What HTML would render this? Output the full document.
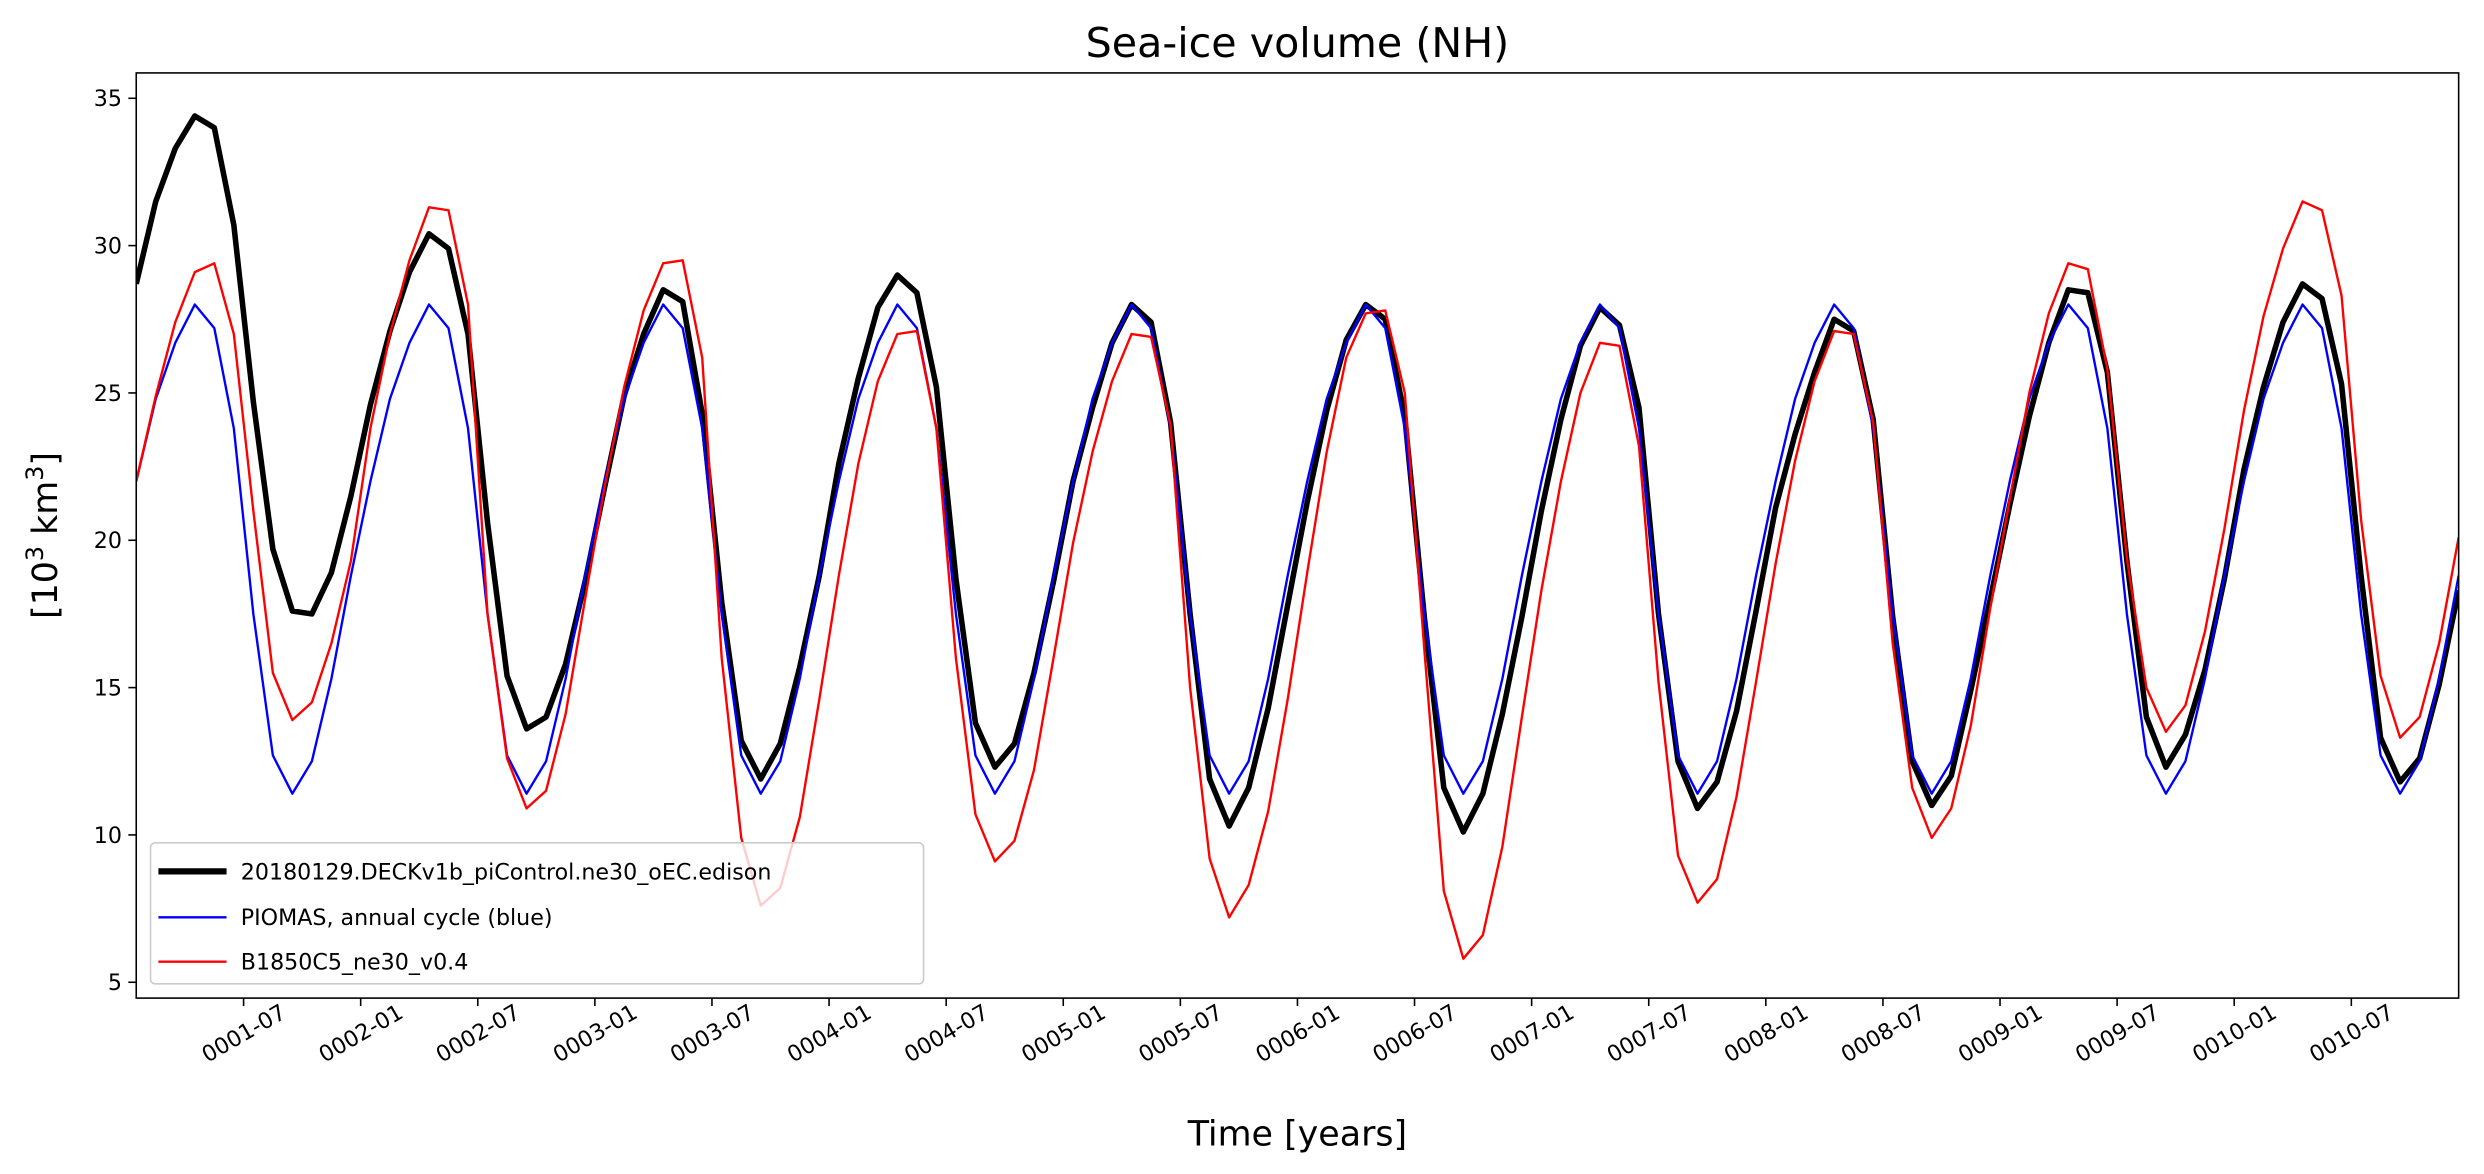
<!DOCTYPE html>
<html><head><meta charset="utf-8"><style>
html,body{margin:0;padding:0;background:#fff;}
svg{display:block;font-family:"DejaVu Sans","Liberation Sans",sans-serif;}
</style></head><body>
<svg id="chart" width="2484" height="1174" viewBox="0 0 1568 741" xmlns="http://www.w3.org/2000/svg">
<rect width="1568" height="741" fill="#fff"/>
<text x="819" y="36" font-size="26" text-anchor="middle">Sea-ice volume (NH)</text>
<text x="819" y="723" font-size="22" text-anchor="middle">Time [years]</text>
<text transform="translate(36,338) rotate(-90)" font-size="22" text-anchor="middle">[10<tspan font-size="15" dy="-9">3</tspan><tspan dy="9"> km</tspan><tspan font-size="15" dy="-9">3</tspan><tspan dy="9">]</tspan></text>
<g id="plot"></g>
<rect x="86" y="46" width="1466" height="584" fill="none" stroke="#000" stroke-width="1"/>
<g>
<rect x="95" y="532" width="488" height="89" rx="3" fill="#fff" fill-opacity="0.8" stroke="#ccc"/>
<line x1="100" y1="550" x2="143" y2="550" stroke="#000" stroke-width="4"/>
<text x="152" y="555" font-size="14">20180129.DECKv1b_piControl.ne30_oEC.edison</text>
<line x1="100" y1="579" x2="143" y2="579" stroke="#0000ff" stroke-width="1.5"/>
<text x="152" y="584" font-size="14">PIOMAS, annual cycle (blue)</text>
<line x1="100" y1="607" x2="143" y2="607" stroke="#ff0000" stroke-width="1.5"/>
<text x="152" y="612" font-size="14">B1850C5_ne30_v0.4</text>
</g>
</svg>
<script>
const piomasCycle=[22.0,24.8,26.7,28.0,27.2,23.8,17.5,12.7,11.4,12.5,15.3,18.8];
const modelValues=[28.7,31.5,33.3,34.4,34.0,30.7,24.7,19.7,17.6,17.5,18.9,21.5,
24.6,27.1,29.1,30.4,29.9,27.0,20.6,15.4,13.6,14.0,15.8,18.6,
21.8,24.9,27.0,28.5,28.1,24.3,17.9,13.2,11.9,13.1,15.7,18.8,
22.6,25.5,27.9,29.0,28.4,25.2,18.7,13.8,12.3,13.1,15.5,18.6,
22.0,24.5,26.7,28.0,27.4,24.0,17.5,11.9,10.3,11.6,14.3,17.8,
21.3,24.4,26.8,28.0,27.5,24.2,17.4,11.6,10.1,11.4,14.1,17.4,
21.0,24.1,26.6,27.9,27.3,24.5,17.5,12.5,10.9,11.8,14.2,17.6,
21.1,23.6,25.7,27.5,27.1,24.1,17.4,12.5,11.0,12.0,14.9,18.0,
21.2,24.2,26.7,28.5,28.4,25.7,19.3,14.0,12.3,13.4,15.6,18.7,
22.4,25.2,27.4,28.7,28.2,25.3,18.8,13.3,11.8,12.6,15.1,18.3];
const b1850Values=[22.0,24.9,27.4,29.1,29.4,27.0,21.0,15.5,13.9,14.5,16.5,19.3,
23.8,27.0,29.5,31.3,31.2,28.0,17.5,12.6,10.9,11.5,14.1,18.0,
21.8,25.2,27.8,29.4,29.5,26.2,16.0,9.9,7.6,8.2,10.6,14.6,
18.8,22.6,25.4,27.0,27.1,23.8,16.0,10.7,9.1,9.8,12.2,16.0,
19.9,23.0,25.4,27.0,26.9,23.9,15.0,9.2,7.2,8.3,10.8,14.6,
18.9,23.0,26.2,27.7,27.8,25.0,16.3,8.1,5.8,6.6,9.6,14.0,
18.3,22.0,25.0,26.7,26.6,23.2,15.2,9.3,7.7,8.5,11.3,15.2,
19.2,22.7,25.4,27.1,27.0,24.0,16.5,11.6,9.9,10.9,13.7,17.7,
21.4,25.0,27.7,29.4,29.2,25.8,19.4,15.0,13.5,14.4,16.9,20.4,
24.4,27.6,29.9,31.5,31.2,28.3,20.7,15.4,13.3,14.0,16.5,20.1];
const yTicks=[5,10,15,20,25,30,35];
const xTickLabels=["0001-07","0002-01","0002-07","0003-01","0003-07","0004-01","0004-07","0005-01","0005-07","0006-01","0006-07","0007-01","0007-07","0008-01","0008-07","0009-01","0009-07","0010-01","0010-07"];

const NS="http://www.w3.org/2000/svg";
const plot=document.getElementById('plot');
const X0=86,X1=1552,Y0=46,Y1=630;
const nPts=120;
function xScale(m){return X0+(m-0.5)*(X1-X0)/(nPts-1);}
function yScale(v){return 620-(v-5)*(558/30);}
function mk(tag,attrs){const e=document.createElementNS(NS,tag);for(const k in attrs)e.setAttribute(k,attrs[k]);return e;}

yTicks.forEach(v=>{
  const y=yScale(v);
  const t=mk('line',{x1:X0-5,x2:X0,y1:y,y2:y,stroke:'#000','stroke-width':1});
  
  
  plot.appendChild(t);
  const l=mk('text',{x:X0-9,y:y+5,'font-size':14,'text-anchor':'end'});
  
  
  l.textContent=v;plot.appendChild(l);
});
xTickLabels.forEach(lbl=>{
  const yr=parseInt(lbl.slice(0,4)),mo=parseInt(lbl.slice(5,7));
  const m=(yr-1)*12+(mo-1);
  const x=xScale(m);
  const t=mk('line',{x1:x,x2:x,y1:Y1,y2:Y1+5,stroke:'#000','stroke-width':1});
  
  
  plot.appendChild(t);
  const cy=Y1+22;
  const l=mk('text',{x:x,y:cy+5,'font-size':14,'text-anchor':'middle',transform:`rotate(-30 ${x} ${cy})`});
  
  
  l.textContent=lbl;plot.appendChild(l);
});
const clip=mk('clipPath',{id:'clipPlot'});clip.appendChild(mk('rect',{x:X0,y:Y0,width:X1-X0,height:Y1-Y0}));plot.appendChild(clip);
function series(vals,color,w,name){
  const pts=vals.map((v,i)=>xScale(i+0.5).toFixed(2)+','+yScale(v).toFixed(2)).join(' ');
  const p=mk('polyline',{points:pts,fill:'none',stroke:color,'stroke-width':w,'stroke-linejoin':'round','clip-path':'url(#clipPlot)'});
  
  
  plot.appendChild(p);
}
const piomasValues=[];for(let i=0;i<nPts;i++)piomasValues.push(piomasCycle[i%12]);
series(modelValues,'#000',3.5,'model-line');
series(piomasValues,'#0000ff',1.5,'piomas-line');
series(b1850Values,'#ff0000',1.5,'b1850-line');
</script>
</body></html>
